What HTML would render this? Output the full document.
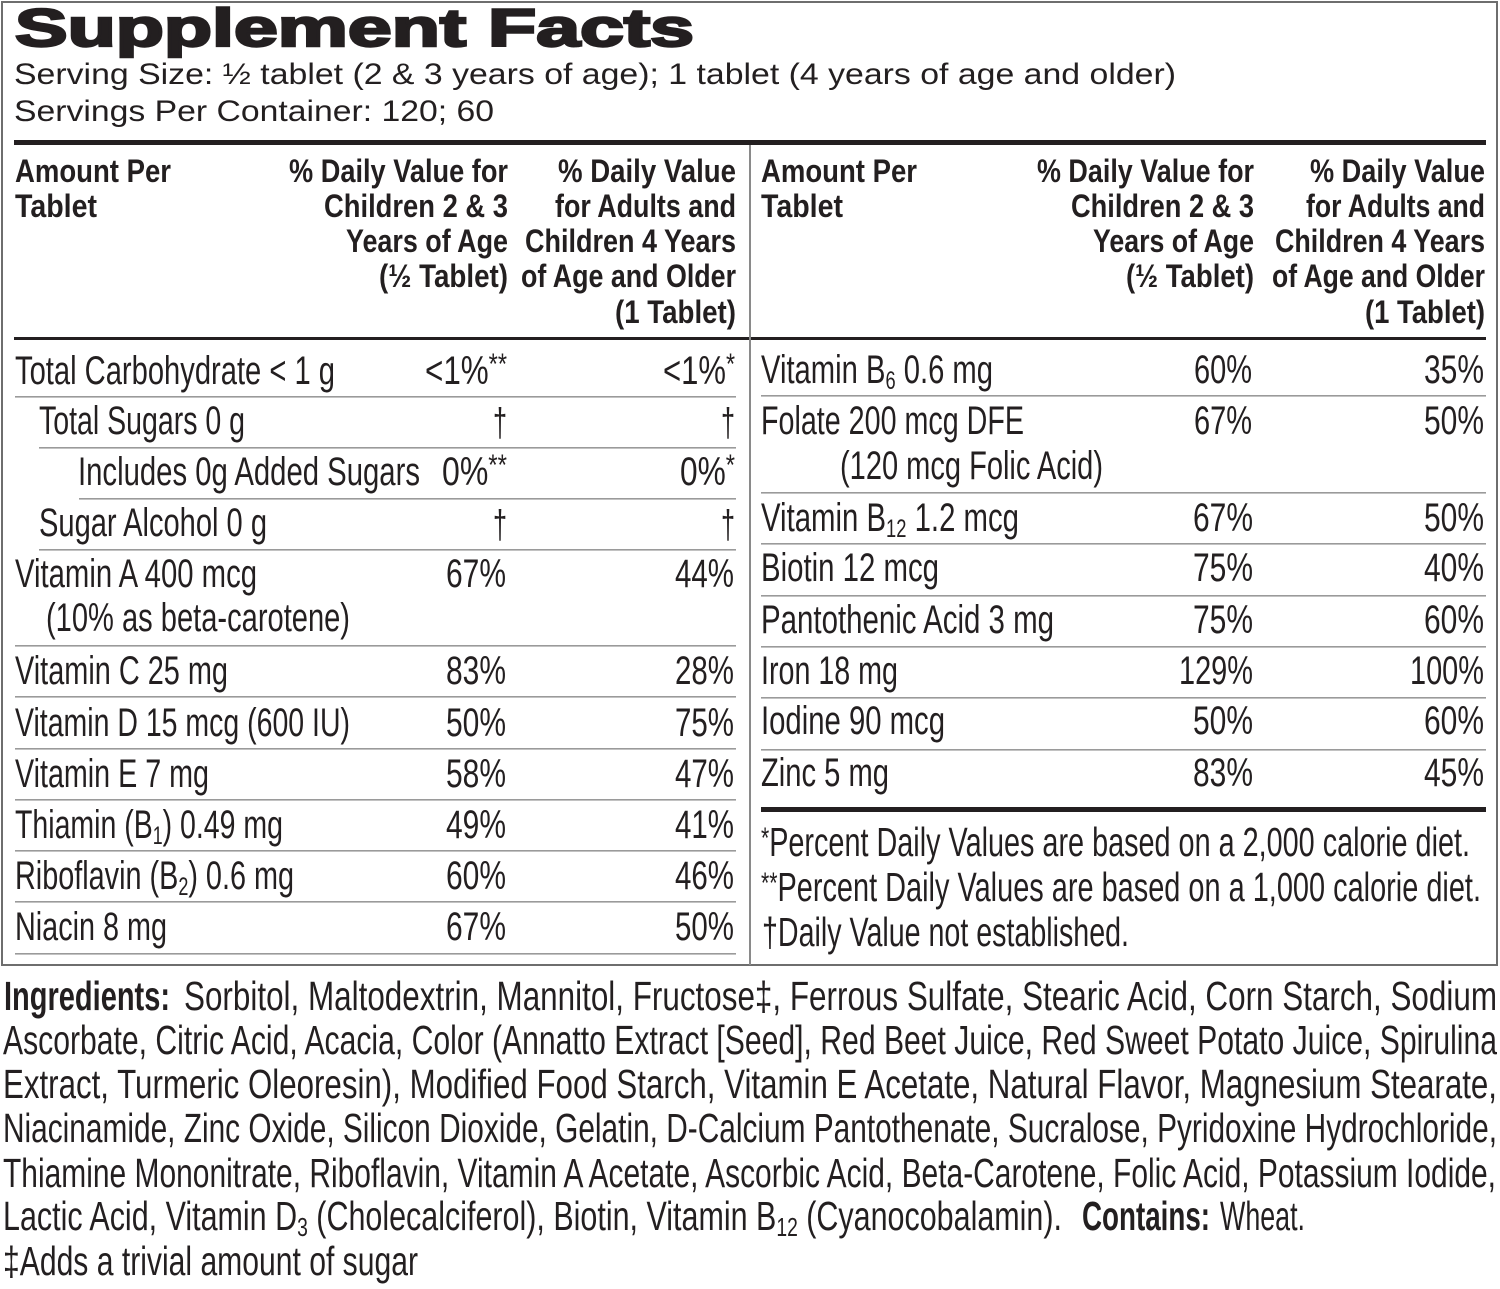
<!DOCTYPE html>
<html>
<head>
<meta charset="utf-8">
<style>
html,body{margin:0;padding:0;background:#fff;}
svg{display:block;}
text{font-family:"Liberation Sans",Arial,sans-serif;fill:#231f20;}
.b{font-weight:bold;}
.h{font-weight:bold;font-size:32px;}
.r{font-size:40px;}
.i{font-size:41px;}
</style>
</head>
<body>
<svg width="1500" height="1289" viewBox="0 0 1500 1289" xmlns="http://www.w3.org/2000/svg">
<rect x="0" y="0" width="1500" height="1289" fill="#fff"/>
<!-- outer box -->
<rect x="2" y="2" width="1495" height="963" fill="none" stroke="#6e6e6e" stroke-width="2"/>

<!-- Title -->
<text x="15" y="46" class="b" font-size="53" textLength="679" lengthAdjust="spacingAndGlyphs" stroke="#231f20" stroke-width="2.4">Supplement Facts</text>
<text x="14" y="84" font-size="30" textLength="1162" lengthAdjust="spacingAndGlyphs">Serving Size: ½ tablet (2 &amp; 3 years of age); 1 tablet (4 years of age and older)</text>
<text x="14" y="121" font-size="30" textLength="480" lengthAdjust="spacingAndGlyphs">Servings Per Container: 120; 60</text>

<!-- thick rules -->
<rect x="14" y="140" width="1472" height="5" fill="#231f20"/>
<rect x="14" y="337" width="1472" height="3" fill="#231f20"/>
<!-- divider -->
<rect x="749" y="145" width="2" height="820" fill="#8a8a8a"/>

<!-- Left header -->
<text class="h" x="15" y="182" textLength="156" lengthAdjust="spacingAndGlyphs">Amount Per</text>
<text class="h" x="15" y="217" textLength="82" lengthAdjust="spacingAndGlyphs">Tablet</text>
<text class="h" x="289" y="182" textLength="219" lengthAdjust="spacingAndGlyphs">% Daily Value for</text>
<text class="h" x="324" y="217" textLength="184" lengthAdjust="spacingAndGlyphs">Children 2 &amp; 3</text>
<text class="h" x="346" y="252" textLength="162" lengthAdjust="spacingAndGlyphs">Years of Age</text>
<text class="h" x="379" y="287" textLength="129" lengthAdjust="spacingAndGlyphs">(½ Tablet)</text>
<text class="h" x="558" y="182" textLength="178" lengthAdjust="spacingAndGlyphs">% Daily Value</text>
<text class="h" x="555" y="217" textLength="181" lengthAdjust="spacingAndGlyphs">for Adults and</text>
<text class="h" x="525" y="252" textLength="211" lengthAdjust="spacingAndGlyphs">Children 4 Years</text>
<text class="h" x="521" y="287" textLength="215" lengthAdjust="spacingAndGlyphs">of Age and Older</text>
<text class="h" x="615" y="323" textLength="121" lengthAdjust="spacingAndGlyphs">(1 Tablet)</text>

<!-- Right header -->
<text class="h" x="761" y="182" textLength="156" lengthAdjust="spacingAndGlyphs">Amount Per</text>
<text class="h" x="761" y="217" textLength="82" lengthAdjust="spacingAndGlyphs">Tablet</text>
<text class="h" x="1037" y="182" textLength="217" lengthAdjust="spacingAndGlyphs">% Daily Value for</text>
<text class="h" x="1071" y="217" textLength="183" lengthAdjust="spacingAndGlyphs">Children 2 &amp; 3</text>
<text class="h" x="1093" y="252" textLength="161" lengthAdjust="spacingAndGlyphs">Years of Age</text>
<text class="h" x="1126" y="287" textLength="128" lengthAdjust="spacingAndGlyphs">(½ Tablet)</text>
<text class="h" x="1310" y="182" textLength="175" lengthAdjust="spacingAndGlyphs">% Daily Value</text>
<text class="h" x="1306" y="217" textLength="179" lengthAdjust="spacingAndGlyphs">for Adults and</text>
<text class="h" x="1275" y="252" textLength="210" lengthAdjust="spacingAndGlyphs">Children 4 Years</text>
<text class="h" x="1272" y="287" textLength="213" lengthAdjust="spacingAndGlyphs">of Age and Older</text>
<text class="h" x="1365" y="323" textLength="120" lengthAdjust="spacingAndGlyphs">(1 Tablet)</text>

<!-- Left row lines -->
<g fill="#9a9a9a">
<rect x="15" y="396" width="721" height="1.6"/>
<rect x="39" y="447" width="697" height="1.6"/>
<rect x="79" y="498" width="657" height="1.6"/>
<rect x="39" y="549" width="697" height="1.6"/>
<rect x="15" y="645" width="721" height="1.6"/>
<rect x="15" y="696" width="721" height="1.6"/>
<rect x="15" y="748" width="721" height="1.6"/>
<rect x="15" y="799" width="721" height="1.6"/>
<rect x="15" y="850" width="721" height="1.6"/>
<rect x="15" y="901" width="721" height="1.6"/>
<rect x="15" y="953" width="721" height="1.6"/>
<!-- Right row lines -->
<rect x="761" y="395" width="725" height="1.6"/>
<rect x="761" y="492" width="725" height="1.6"/>
<rect x="761" y="543" width="725" height="1.6"/>
<rect x="761" y="595" width="725" height="1.6"/>
<rect x="761" y="646" width="725" height="1.6"/>
<rect x="761" y="697" width="725" height="1.6"/>
<rect x="761" y="749" width="725" height="1.6"/>
</g>
<rect x="761" y="807" width="725" height="5" fill="#231f20"/>

<!-- Left rows -->
<text class="r" x="15" y="384" textLength="320" lengthAdjust="spacingAndGlyphs">Total Carbohydrate &lt; 1 g</text>
<text class="r" x="425" y="384" textLength="82" lengthAdjust="spacingAndGlyphs">&lt;1%<tspan font-size="30" dy="-10">**</tspan></text>
<text class="r" x="663" y="384" textLength="72" lengthAdjust="spacingAndGlyphs">&lt;1%<tspan font-size="30" dy="-10">*</tspan></text>

<text class="r" x="39" y="434" textLength="206" lengthAdjust="spacingAndGlyphs">Total Sugars 0 g</text>
<text class="r" x="493" y="436" textLength="14" lengthAdjust="spacingAndGlyphs">†</text>
<text class="r" x="721" y="436" textLength="14" lengthAdjust="spacingAndGlyphs">†</text>

<text class="r" x="78" y="485" textLength="342" lengthAdjust="spacingAndGlyphs">Includes 0g Added Sugars</text>
<text class="r" x="442" y="485" textLength="65" lengthAdjust="spacingAndGlyphs">0%<tspan font-size="30" dy="-10">**</tspan></text>
<text class="r" x="680" y="485" textLength="55" lengthAdjust="spacingAndGlyphs">0%<tspan font-size="30" dy="-10">*</tspan></text>

<text class="r" x="39" y="536" textLength="228" lengthAdjust="spacingAndGlyphs">Sugar Alcohol 0 g</text>
<text class="r" x="493" y="538" textLength="14" lengthAdjust="spacingAndGlyphs">†</text>
<text class="r" x="721" y="538" textLength="14" lengthAdjust="spacingAndGlyphs">†</text>

<text class="r" x="15" y="587" textLength="242" lengthAdjust="spacingAndGlyphs">Vitamin A 400 mcg</text>
<text class="r" x="446" y="587" textLength="60" lengthAdjust="spacingAndGlyphs">67%</text>
<text class="r" x="675" y="587" textLength="59" lengthAdjust="spacingAndGlyphs">44%</text>
<text class="r" x="46" y="631" textLength="304" lengthAdjust="spacingAndGlyphs">(10% as beta-carotene)</text>

<text class="r" x="15" y="684" textLength="213" lengthAdjust="spacingAndGlyphs">Vitamin C 25 mg</text>
<text class="r" x="446" y="684" textLength="60" lengthAdjust="spacingAndGlyphs">83%</text>
<text class="r" x="675" y="684" textLength="59" lengthAdjust="spacingAndGlyphs">28%</text>

<text class="r" x="15" y="736" textLength="335" lengthAdjust="spacingAndGlyphs">Vitamin D 15 mcg (600 IU)</text>
<text class="r" x="446" y="736" textLength="60" lengthAdjust="spacingAndGlyphs">50%</text>
<text class="r" x="675" y="736" textLength="59" lengthAdjust="spacingAndGlyphs">75%</text>

<text class="r" x="15" y="787" textLength="194" lengthAdjust="spacingAndGlyphs">Vitamin E 7 mg</text>
<text class="r" x="446" y="787" textLength="60" lengthAdjust="spacingAndGlyphs">58%</text>
<text class="r" x="675" y="787" textLength="59" lengthAdjust="spacingAndGlyphs">47%</text>

<text class="r" x="15" y="838" textLength="268" lengthAdjust="spacingAndGlyphs">Thiamin (B<tspan font-size="25" dy="6">1</tspan><tspan dy="-6">) 0.49 mg</tspan></text>
<text class="r" x="446" y="838" textLength="60" lengthAdjust="spacingAndGlyphs">49%</text>
<text class="r" x="675" y="838" textLength="59" lengthAdjust="spacingAndGlyphs">41%</text>

<text class="r" x="15" y="889" textLength="279" lengthAdjust="spacingAndGlyphs">Riboflavin (B<tspan font-size="25" dy="6">2</tspan><tspan dy="-6">) 0.6 mg</tspan></text>
<text class="r" x="446" y="889" textLength="60" lengthAdjust="spacingAndGlyphs">60%</text>
<text class="r" x="675" y="889" textLength="59" lengthAdjust="spacingAndGlyphs">46%</text>

<text class="r" x="15" y="940" textLength="152" lengthAdjust="spacingAndGlyphs">Niacin 8 mg</text>
<text class="r" x="446" y="940" textLength="60" lengthAdjust="spacingAndGlyphs">67%</text>
<text class="r" x="675" y="940" textLength="59" lengthAdjust="spacingAndGlyphs">50%</text>

<!-- Right rows -->
<text class="r" x="761" y="383" textLength="232" lengthAdjust="spacingAndGlyphs">Vitamin B<tspan font-size="25" dy="6">6</tspan><tspan dy="-6"> 0.6 mg</tspan></text>
<text class="r" x="1194" y="383" textLength="58" lengthAdjust="spacingAndGlyphs">60%</text>
<text class="r" x="1424" y="383" textLength="60" lengthAdjust="spacingAndGlyphs">35%</text>

<text class="r" x="761" y="434" textLength="263" lengthAdjust="spacingAndGlyphs">Folate 200 mcg DFE</text>
<text class="r" x="1194" y="434" textLength="58" lengthAdjust="spacingAndGlyphs">67%</text>
<text class="r" x="1424" y="434" textLength="60" lengthAdjust="spacingAndGlyphs">50%</text>
<text class="r" x="840" y="479" textLength="263" lengthAdjust="spacingAndGlyphs">(120 mcg Folic Acid)</text>

<text class="r" x="761" y="531" textLength="258" lengthAdjust="spacingAndGlyphs">Vitamin B<tspan font-size="25" dy="6">12</tspan><tspan dy="-6"> 1.2 mcg</tspan></text>
<text class="r" x="1193" y="531" textLength="60" lengthAdjust="spacingAndGlyphs">67%</text>
<text class="r" x="1424" y="531" textLength="60" lengthAdjust="spacingAndGlyphs">50%</text>

<text class="r" x="761" y="581" textLength="178" lengthAdjust="spacingAndGlyphs">Biotin 12 mcg</text>
<text class="r" x="1193" y="581" textLength="60" lengthAdjust="spacingAndGlyphs">75%</text>
<text class="r" x="1424" y="581" textLength="60" lengthAdjust="spacingAndGlyphs">40%</text>

<text class="r" x="761" y="633" textLength="293" lengthAdjust="spacingAndGlyphs">Pantothenic Acid 3 mg</text>
<text class="r" x="1193" y="633" textLength="60" lengthAdjust="spacingAndGlyphs">75%</text>
<text class="r" x="1424" y="633" textLength="60" lengthAdjust="spacingAndGlyphs">60%</text>

<text class="r" x="761" y="684" textLength="137" lengthAdjust="spacingAndGlyphs">Iron 18 mg</text>
<text class="r" x="1179" y="684" textLength="74" lengthAdjust="spacingAndGlyphs">129%</text>
<text class="r" x="1410" y="684" textLength="74" lengthAdjust="spacingAndGlyphs">100%</text>

<text class="r" x="761" y="734" textLength="184" lengthAdjust="spacingAndGlyphs">Iodine 90 mcg</text>
<text class="r" x="1193" y="734" textLength="60" lengthAdjust="spacingAndGlyphs">50%</text>
<text class="r" x="1424" y="734" textLength="60" lengthAdjust="spacingAndGlyphs">60%</text>

<text class="r" x="761" y="786" textLength="128" lengthAdjust="spacingAndGlyphs">Zinc 5 mg</text>
<text class="r" x="1193" y="786" textLength="60" lengthAdjust="spacingAndGlyphs">83%</text>
<text class="r" x="1424" y="786" textLength="60" lengthAdjust="spacingAndGlyphs">45%</text>

<!-- Footnotes -->
<text class="i" x="761" y="856" textLength="709" lengthAdjust="spacingAndGlyphs"><tspan font-size="30" dy="-8">*</tspan><tspan dy="8">Percent Daily Values are based on a 2,000 calorie diet.</tspan></text>
<text class="i" x="761" y="901" textLength="720" lengthAdjust="spacingAndGlyphs"><tspan font-size="30" dy="-8">**</tspan><tspan dy="8">Percent Daily Values are based on a 1,000 calorie diet.</tspan></text>
<text class="i" x="762" y="946" textLength="367" lengthAdjust="spacingAndGlyphs">†Daily Value not established.</text>

<!-- Ingredients -->
<text class="i b" x="4" y="1010" textLength="166" lengthAdjust="spacingAndGlyphs">Ingredients:</text>
<text class="i" x="184" y="1010" textLength="1313" lengthAdjust="spacingAndGlyphs">Sorbitol, Maltodextrin, Mannitol, Fructose‡, Ferrous Sulfate, Stearic Acid, Corn Starch, Sodium</text>
<text class="i" x="3" y="1054" textLength="1494" lengthAdjust="spacingAndGlyphs">Ascorbate, Citric Acid, Acacia, Color (Annatto Extract [Seed], Red Beet Juice, Red Sweet Potato Juice, Spirulina</text>
<text class="i" x="3" y="1098" textLength="1494" lengthAdjust="spacingAndGlyphs">Extract, Turmeric Oleoresin), Modified Food Starch, Vitamin E Acetate, Natural Flavor, Magnesium Stearate,</text>
<text class="i" x="3" y="1142" textLength="1494" lengthAdjust="spacingAndGlyphs">Niacinamide, Zinc Oxide, Silicon Dioxide, Gelatin, D-Calcium Pantothenate, Sucralose, Pyridoxine Hydrochloride,</text>
<text class="i" x="3" y="1187" textLength="1493" lengthAdjust="spacingAndGlyphs">Thiamine Mononitrate, Riboflavin, Vitamin A Acetate, Ascorbic Acid, Beta-Carotene, Folic Acid, Potassium Iodide,</text>
<text class="i" x="3" y="1230" textLength="1059" lengthAdjust="spacingAndGlyphs">Lactic Acid, Vitamin D<tspan font-size="26" dy="6">3</tspan><tspan dy="-6"> (Cholecalciferol), Biotin, Vitamin B</tspan><tspan font-size="26" dy="6">12</tspan><tspan dy="-6"> (Cyanocobalamin).</tspan></text>
<text class="i b" x="1082" y="1230" textLength="128" lengthAdjust="spacingAndGlyphs">Contains:</text>
<text class="i" x="1220" y="1230" textLength="85" lengthAdjust="spacingAndGlyphs">Wheat.</text>
<text class="i" x="3" y="1275" textLength="415" lengthAdjust="spacingAndGlyphs">‡Adds a trivial amount of sugar</text>
</svg>
</body>
</html>
